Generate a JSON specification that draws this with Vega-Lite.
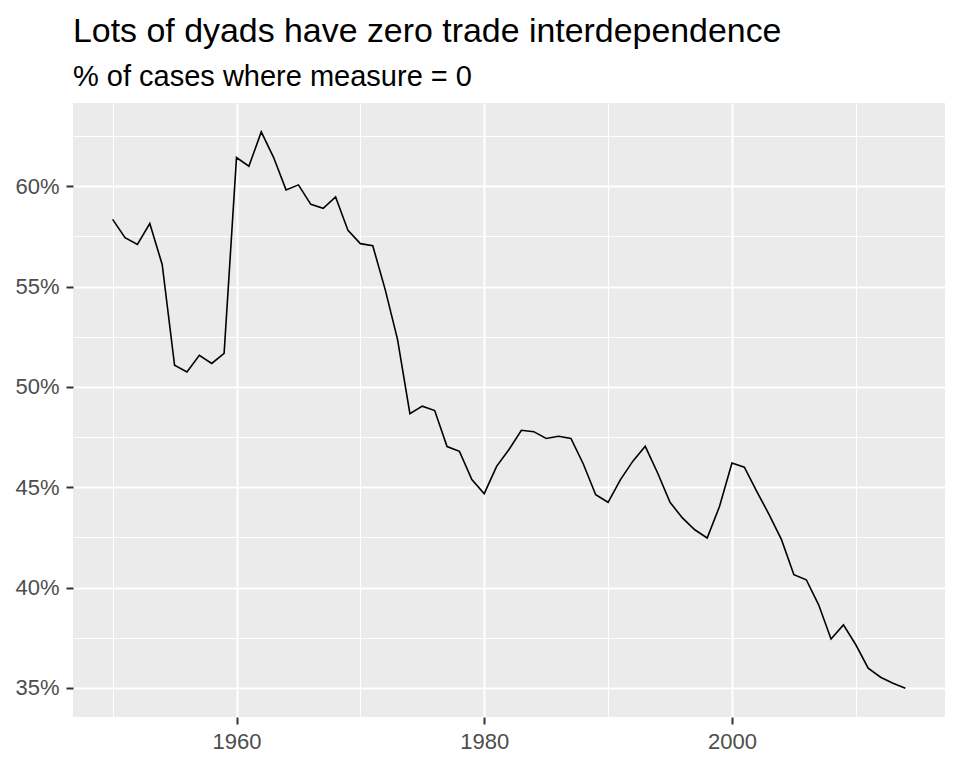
{
  "$schema": "https://vega.github.io/schema/vega-lite/v6.json",
  "width": 872,
  "height": 614,
  "autosize": {"type": "none"},
  "padding": {"left": 73, "top": 103, "right": 15, "bottom": 51},
  "background": "#ffffff",
  "title": {
    "text": "Lots of dyads have zero trade interdependence",
    "subtitle": "% of cases where measure = 0",
    "anchor": "start",
    "frame": "group",
    "font": "Liberation Sans",
    "fontSize": 33.9,
    "fontWeight": "normal",
    "color": "#000000",
    "subtitleFont": "Liberation Sans",
    "subtitleFontSize": 29,
    "subtitleColor": "#000000",
    "subtitlePadding": 14,
    "offset": 11
  },
  "config": {
    "view": {"fill": "#EBEBEB", "stroke": null},
    "axis": {
      "domain": false,
      "labelFont": "Liberation Sans",
      "labelFontSize": 22,
      "labelColor": "#4D4D4D",
      "tickColor": "#333333",
      "tickWidth": 2,
      "tickSize": 7,
      "labelPadding": 7,
      "gridColor": "#FFFFFF",
      "labelOverlap": false,
      "labelFlush": false,
      "title": null
    }
  },
  "data": {
    "values": [
      {"year": 1950, "share": 0.5835},
      {"year": 1951, "share": 0.5744},
      {"year": 1952, "share": 0.5710},
      {"year": 1953, "share": 0.5814},
      {"year": 1954, "share": 0.5610},
      {"year": 1955, "share": 0.5108},
      {"year": 1956, "share": 0.5075},
      {"year": 1957, "share": 0.5158},
      {"year": 1958, "share": 0.5117},
      {"year": 1959, "share": 0.5167},
      {"year": 1960, "share": 0.6143},
      {"year": 1961, "share": 0.6100},
      {"year": 1962, "share": 0.6271},
      {"year": 1963, "share": 0.6143},
      {"year": 1964, "share": 0.5982},
      {"year": 1965, "share": 0.6007},
      {"year": 1966, "share": 0.5910},
      {"year": 1967, "share": 0.5890},
      {"year": 1968, "share": 0.5947},
      {"year": 1969, "share": 0.5780},
      {"year": 1970, "share": 0.5714},
      {"year": 1971, "share": 0.5704},
      {"year": 1972, "share": 0.5486},
      {"year": 1973, "share": 0.5237},
      {"year": 1974, "share": 0.4867},
      {"year": 1975, "share": 0.4904},
      {"year": 1976, "share": 0.4882},
      {"year": 1977, "share": 0.4703},
      {"year": 1978, "share": 0.4679},
      {"year": 1979, "share": 0.4538},
      {"year": 1980, "share": 0.4468},
      {"year": 1981, "share": 0.4604},
      {"year": 1982, "share": 0.4688},
      {"year": 1983, "share": 0.4784},
      {"year": 1984, "share": 0.4777},
      {"year": 1985, "share": 0.4743},
      {"year": 1986, "share": 0.4754},
      {"year": 1987, "share": 0.4743},
      {"year": 1988, "share": 0.4616},
      {"year": 1989, "share": 0.4463},
      {"year": 1990, "share": 0.4425},
      {"year": 1991, "share": 0.4538},
      {"year": 1992, "share": 0.4630},
      {"year": 1993, "share": 0.4704},
      {"year": 1994, "share": 0.4571},
      {"year": 1995, "share": 0.4425},
      {"year": 1996, "share": 0.4347},
      {"year": 1997, "share": 0.4288},
      {"year": 1998, "share": 0.4247},
      {"year": 1999, "share": 0.4405},
      {"year": 2000, "share": 0.4621},
      {"year": 2001, "share": 0.4600},
      {"year": 2002, "share": 0.4480},
      {"year": 2003, "share": 0.4364},
      {"year": 2004, "share": 0.4239},
      {"year": 2005, "share": 0.4064},
      {"year": 2006, "share": 0.4039},
      {"year": 2007, "share": 0.3914},
      {"year": 2008, "share": 0.3744},
      {"year": 2009, "share": 0.3814},
      {"year": 2010, "share": 0.3715},
      {"year": 2011, "share": 0.3598},
      {"year": 2012, "share": 0.3553},
      {"year": 2013, "share": 0.3523},
      {"year": 2014, "share": 0.3498}
    ]
  },
  "mark": {"type": "line", "color": "#000000", "strokeWidth": 1.6, "clip": true},
  "encoding": {
    "x": {
      "field": "year",
      "type": "quantitative",
      "scale": {"domain": [1946.8, 2017.2], "nice": false, "zero": false},
      "axis": {
        "values": [1950, 1960, 1970, 1980, 1990, 2000, 2010],
        "format": "d",
        "labelExpr": "datum.value % 20 == 0 ? datum.label : ''",
        "gridWidth": {"condition": {"test": "datum.value % 20 == 0", "value": 2}, "value": 1},
        "tickOpacity": {"condition": {"test": "datum.value % 20 == 0", "value": 1}, "value": 0}
      }
    },
    "y": {
      "field": "share",
      "type": "quantitative",
      "scale": {"domain": [0.3355, 0.6415], "nice": false, "zero": false},
      "axis": {
        "values": [0.35, 0.375, 0.4, 0.425, 0.45, 0.475, 0.5, 0.525, 0.55, 0.575, 0.6, 0.625],
        "format": ".0%",
        "labelExpr": "abs(datum.value * 20 - round(datum.value * 20)) < 0.001 ? datum.label : ''",
        "gridWidth": {"condition": {"test": "abs(datum.value * 20 - round(datum.value * 20)) < 0.001", "value": 2}, "value": 1},
        "tickOpacity": {"condition": {"test": "abs(datum.value * 20 - round(datum.value * 20)) < 0.001", "value": 1}, "value": 0}
      }
    }
  }
}
